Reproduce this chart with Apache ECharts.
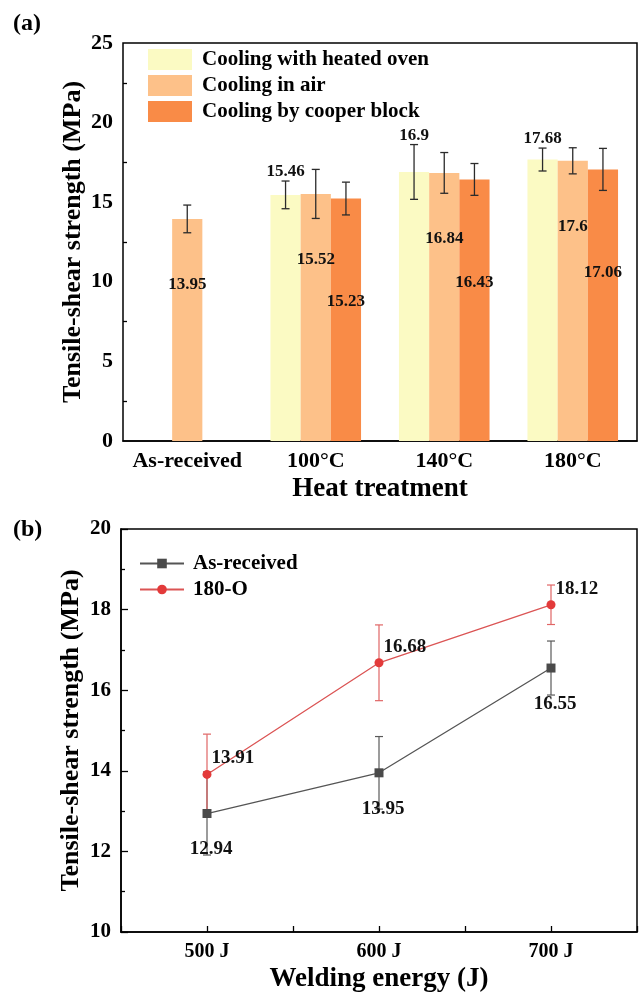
<!DOCTYPE html>
<html lang="en">
<head>
    <meta charset="UTF-8">
    <title>tensile-shear strength</title>
    <script src="https://cdn.jsdelivr.net/npm/echarts@6/dist/echarts.min.js"></script>
    <style>
        html, body { margin: 0; padding: 0; background: #fff; }
    </style>
</head>
<body>
<div id="chart" style="width: 640px;height:994px;"></div>
<script>
    // (a) heat treatment
    let heatCats = ['As-received', '100°C', '140°C', '180°C'];
    let ovenVals = ['-', 15.46, 16.9, 17.68];
    let ovenErr = [0, 0.87, 1.72, 0.72];
    let airVals = [13.95, 15.52, 16.84, 17.6];
    let airErr = [0.87, 1.54, 1.28, 0.82];
    let copperVals = ['-', 15.23, 16.43, 17.06];
    let copperErr = [0, 1.03, 1.0, 1.32];
    let heatTicks = [0, 5, 10, 15, 20, 25];

    // (b) welding energy
    let energy = [500, 600, 700];
    let asRecVals = [12.94, 13.95, 16.55];
    let asRecErr = [1.03, 0.9, 0.67];
    let o180Vals = [13.91, 16.68, 18.12];
    let o180Err = [1.0, 0.94, 0.49];

    let FONT = '"Liberation Serif", "Times New Roman", serif';
    let BAR_RATIO = 0.235;
    let barColors = ['#FBFAC3', '#FDC189', '#F98B47'];

    let chart = echarts.init(document.getElementById('chart'));

    // error bars for the grouped bars, slot = position inside the group
    function barErrors(vals, errs, slot, withLabel) {
        let data = [];
        for (let i = 0; i < vals.length; i++) {
            if (vals[i] !== '-') data.push([i, vals[i], errs[i]]);
        }
        return {
            type: 'custom',
            xAxisIndex: 0,
            yAxisIndex: 0,
            z: 5,
            silent: true,
            data: data,
            renderItem: function (params, api) {
                let i = api.value(0), v = api.value(1), e = api.value(2);
                let band = api.size([1, 0])[0];
                let x = api.coord([i, v])[0] + (slot - 1) * band * BAR_RATIO;
                let yt = api.coord([i, v + e])[1];
                let yb = api.coord([i, v - e])[1];
                let st = {stroke: '#2b2b2b', lineWidth: 1.3};
                let kids = [
                    {type: 'line', shape: {x1: x, y1: yt, x2: x, y2: yb}, style: st},
                    {type: 'line', shape: {x1: x - 4, y1: yt, x2: x + 4, y2: yt}, style: st},
                    {type: 'line', shape: {x1: x - 4, y1: yb, x2: x + 4, y2: yb}, style: st}
                ];
                if (withLabel) {
                    kids.push({
                        type: 'text',
                        style: {
                            text: String(v), x: x, y: yt - 9,
                            align: 'center', verticalAlign: 'middle',
                            fill: '#111', font: 'bold 17px ' + FONT
                        }
                    });
                }
                return {type: 'group', children: kids};
            }
        };
    }

    // error bars for the line chart
    function lineErrors(xs, vals, errs, color) {
        return {
            type: 'custom',
            xAxisIndex: 2,
            yAxisIndex: 1,
            z: 1,
            silent: true,
            data: xs.map((x, i) => [x, vals[i], errs[i]]),
            renderItem: function (params, api) {
                let x = api.coord([api.value(0), api.value(1)])[0];
                let v = api.value(1), e = api.value(2);
                let yt = api.coord([api.value(0), v + e])[1];
                let yb = api.coord([api.value(0), v - e])[1];
                let st = {stroke: color, lineWidth: 1.2};
                return {
                    type: 'group', children: [
                        {type: 'line', shape: {x1: x, y1: yt, x2: x, y2: yb}, style: st},
                        {type: 'line', shape: {x1: x - 4, y1: yt, x2: x + 4, y2: yt}, style: st},
                        {type: 'line', shape: {x1: x - 4, y1: yb, x2: x + 4, y2: yb}, style: st}
                    ]
                };
            }
        };
    }

    let axisLineStyle = {color: '#000', width: 1.5};
    let tickLabel = {color: '#000', fontFamily: FONT, fontWeight: 'bold'};
    let nameFont = {fontFamily: FONT, fontWeight: 'bold', color: '#000'};

    let option = {
        animation: false,
        backgroundColor: '#fff',
        title: [
            {text: '(a)', left: 13, top: 12, padding: 0, textStyle: {fontFamily: FONT, fontWeight: 'bold', fontSize: 24, color: '#000'}},
            {text: '(b)', left: 13, top: 518, padding: 0, textStyle: {fontFamily: FONT, fontWeight: 'bold', fontSize: 24, color: '#000'}}
        ],
        grid: [
            {left: 123, top: 43, right: 3, height: 398, show: true, borderColor: '#000', borderWidth: 1.5},
            {left: 121, top: 529, right: 3, height: 403, show: true, borderColor: '#000', borderWidth: 1.5}
        ],
        legend: [
            {
                data: ['Cooling with heated oven', 'Cooling in air', 'Cooling by cooper block'],
                orient: 'vertical', left: 148, top: 49, padding: 0,
                icon: 'rect', itemWidth: 44, itemHeight: 21, itemGap: 5,
                textStyle: {fontFamily: FONT, fontWeight: 'bold', fontSize: 21, color: '#000', padding: [0, 0, 0, 5]}
            },
            {
                data: ['As-received', '180-O'],
                orient: 'vertical', left: 139, top: 553, padding: 0,
                itemWidth: 44, itemHeight: 12, itemGap: 5,
                textStyle: {fontFamily: FONT, fontWeight: 'bold', fontSize: 21, color: '#000', padding: [0, 0, 0, 4]}
            }
        ],
        xAxis: [
            {
                type: 'category', gridIndex: 0, data: heatCats,
                name: 'Heat treatment', nameLocation: 'middle', nameGap: 35,
                nameTextStyle: Object.assign({fontSize: 27}, nameFont),
                axisLine: {lineStyle: axisLineStyle},
                axisTick: {inside: true, alignWithLabel: true, length: 7, lineStyle: {color: '#000', width: 1.3}},
                axisLabel: Object.assign({fontSize: 22, margin: 9, interval: 0}, tickLabel)
            },
            {
                type: 'category', gridIndex: 0, data: heatCats, position: 'bottom',
                axisLine: {show: false},
                axisTick: {inside: true, length: 4, lineStyle: {color: '#000', width: 1.3}},
                axisLabel: {show: false}
            },
            {
                type: 'value', gridIndex: 1, min: 450, max: 750, interval: 50,
                name: 'Welding energy (J)', nameLocation: 'middle', nameGap: 34,
                nameTextStyle: Object.assign({fontSize: 27}, nameFont),
                splitLine: {show: false},
                axisLine: {lineStyle: axisLineStyle},
                axisTick: {inside: true, length: 6, lineStyle: {color: '#000', width: 1.3}},
                axisLabel: Object.assign({
                    fontSize: 20, margin: 10,
                    formatter: function (v) { return energy.indexOf(v) >= 0 ? v + ' J' : ''; }
                }, tickLabel)
            }
        ],
        yAxis: [
            {
                type: 'value', gridIndex: 0,
                min: heatTicks[0], max: heatTicks[heatTicks.length - 1], interval: heatTicks[1] - heatTicks[0],
                name: 'Tensile-shear strength (MPa)', nameLocation: 'middle', nameGap: 37,
                nameMoveOverlap: false,
                nameTextStyle: Object.assign({fontSize: 26}, nameFont),
                splitLine: {show: false},
                axisLine: {lineStyle: axisLineStyle},
                axisTick: {inside: true, length: 7, lineStyle: {color: '#000', width: 1.3}},
                minorTick: {show: true, splitNumber: 2, length: 4, lineStyle: {color: '#000', width: 1.3}},
                axisLabel: Object.assign({fontSize: 22, margin: 10}, tickLabel)
            },
            {
                type: 'value', gridIndex: 1, min: 10, max: 20, interval: 2,
                name: 'Tensile-shear strength (MPa)', nameLocation: 'middle', nameGap: 37,
                nameMoveOverlap: false,
                nameTextStyle: Object.assign({fontSize: 26}, nameFont),
                splitLine: {show: false},
                axisLine: {lineStyle: axisLineStyle},
                axisTick: {inside: true, length: 7, lineStyle: {color: '#000', width: 1.3}},
                minorTick: {show: true, splitNumber: 2, length: 4, lineStyle: {color: '#000', width: 1.3}},
                axisLabel: Object.assign({fontSize: 21, margin: 10}, tickLabel)
            }
        ],
        series: [
            {
                name: 'Cooling with heated oven', type: 'bar', xAxisIndex: 0, yAxisIndex: 0,
                data: ovenVals, barWidth: (BAR_RATIO * 100) + '%', barGap: '0%',
                itemStyle: {color: barColors[0]}
            },
            {
                name: 'Cooling in air', type: 'bar', xAxisIndex: 0, yAxisIndex: 0,
                data: airVals, barWidth: (BAR_RATIO * 100) + '%', barGap: '0%',
                itemStyle: {color: barColors[1]},
                label: {
                    show: true, position: 'insideTop', offset: [0, 52],
                    fontFamily: FONT, fontWeight: 'bold', fontSize: 17, color: '#111'
                }
            },
            {
                name: 'Cooling by cooper block', type: 'bar', xAxisIndex: 0, yAxisIndex: 0,
                data: copperVals, barWidth: (BAR_RATIO * 100) + '%', barGap: '0%',
                itemStyle: {color: barColors[2]},
                label: {
                    show: true, position: 'insideTop', offset: [0, 90],
                    fontFamily: FONT, fontWeight: 'bold', fontSize: 17, color: '#111'
                }
            },
            barErrors(ovenVals, ovenErr, 0, true),
            barErrors(airVals, airErr, 1, false),
            barErrors(copperVals, copperErr, 2, false),

            lineErrors(energy, asRecVals, asRecErr, '#5a5a5a'),
            lineErrors(energy, o180Vals, o180Err, '#E06565'),
            {
                name: 'As-received', type: 'line', xAxisIndex: 2, yAxisIndex: 1, z: 3,
                data: energy.map((x, i) => [x, asRecVals[i]]),
                symbol: 'rect', symbolSize: 9,
                itemStyle: {color: '#4a4a4a'},
                lineStyle: {color: '#555', width: 1.3},
                label: {
                    show: true, position: 'bottom', offset: [4, 17],
                    fontFamily: FONT, fontWeight: 'bold', fontSize: 19, color: '#111'
                }
            },
            {
                name: '180-O', type: 'line', xAxisIndex: 2, yAxisIndex: 1, z: 3,
                data: energy.map((x, i) => [x, o180Vals[i]]),
                symbol: 'circle', symbolSize: 9,
                itemStyle: {color: '#E33A3A'},
                lineStyle: {color: '#DB5454', width: 1.3},
                label: {
                    show: true, position: 'right', offset: [-5, -16],
                    fontFamily: FONT, fontWeight: 'bold', fontSize: 19, color: '#111'
                }
            }
        ]
    };

    chart.setOption(option);
</script>

</body>
</html>
